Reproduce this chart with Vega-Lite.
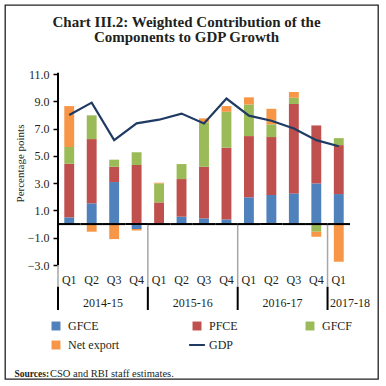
{
  "$schema": "https://vega.github.io/schema/vega-lite/v6.json",
  "width": 373,
  "height": 374,
  "autosize": {"type": "none"},
  "padding": {"left": 5, "top": 5, "right": 8, "bottom": 7},
  "background": "white",
  "title": {
    "text": ["Chart III.2: Weighted Contribution of the", "Components to GDP Growth"],
    "font": "Liberation Serif",
    "fontSize": 15,
    "fontWeight": "bold",
    "color": "#231f20",
    "anchor": "middle",
    "offset": -40,
    "dx": -5,
    "lineHeight": 15.5
  },
  "datasets": {
    "rows": [
      {"period": "2014-15 Q1", "GFCE": 0.49, "PFCE": 3.93, "GFCF": 1.23, "Net export": 3.0, "GDP": 8.0},
      {"period": "2014-15 Q2", "GFCE": 1.52, "PFCE": 4.71, "GFCF": 1.74, "Net export": -0.56, "GDP": 8.9},
      {"period": "2014-15 Q3", "GFCE": 3.08, "PFCE": 1.12, "GFCF": 0.52, "Net export": -1.1, "GDP": 6.15},
      {"period": "2014-15 Q4", "GFCE": -0.37, "PFCE": 4.33, "GFCF": 0.93, "Net export": -0.1, "GDP": 7.38},
      {"period": "2015-16 Q1", "GFCE": 0.05, "PFCE": 1.54, "GFCF": 1.39, "Net export": 0.05, "GDP": 7.65},
      {"period": "2015-16 Q2", "GFCE": 0.54, "PFCE": 2.76, "GFCF": 1.1, "Net export": 0.0, "GDP": 8.1},
      {"period": "2015-16 Q3", "GFCE": 0.42, "PFCE": 3.78, "GFCF": 3.25, "Net export": 0.3, "GDP": 7.38},
      {"period": "2015-16 Q4", "GFCE": 0.34, "PFCE": 5.26, "GFCF": 2.63, "Net export": 0.42, "GDP": 9.2},
      {"period": "2016-17 Q1", "GFCE": 1.96, "PFCE": 4.49, "GFCF": 2.32, "Net export": 0.52, "GDP": 7.95},
      {"period": "2016-17 Q2", "GFCE": 2.13, "PFCE": 4.25, "GFCF": 0.93, "Net export": 1.14, "GDP": 7.57},
      {"period": "2016-17 Q3", "GFCE": 2.25, "PFCE": 6.55, "GFCF": 0.46, "Net export": 0.42, "GDP": 7.0},
      {"period": "2016-17 Q4", "GFCE": 2.98, "PFCE": 4.25, "GFCF": -0.56, "Net export": -0.37, "GDP": 6.15},
      {"period": "2017-18 Q1", "GFCE": 2.2, "PFCE": 3.59, "GFCF": 0.51, "Net export": -2.76, "GDP": 5.7}
    ],
    "seps": [
      {"period": "2014-15 Q1"},
      {"period": "2015-16 Q1"},
      {"period": "2016-17 Q1"},
      {"period": "2017-18 Q1"}
    ],
    "years": [
      {"period": "2014-15 Q2", "year": "2014-15"},
      {"period": "2015-16 Q2", "year": "2015-16"},
      {"period": "2016-17 Q2", "year": "2016-17"},
      {"period": "2017-18 Q1", "year": "2017-18"}
    ],
    "comps": [
      {"comp": "GFCE", "k": 1},
      {"comp": "PFCE", "k": 2},
      {"comp": "GFCF", "k": 3},
      {"comp": "Net export", "k": 4}
    ]
  },
  "data": {"name": "rows"},
  "layer": [
    {
      "transform": [
        {"fold": ["GFCE", "PFCE", "GFCF", "Net export"], "as": ["comp", "value"]},
        {"lookup": "comp", "from": {"data": {"name": "comps"}, "key": "comp", "fields": ["k"]}}
      ],
      "mark": {"type": "bar", "width": {"band": 0.44}},
      "encoding": {
        "x": {
          "field": "period",
          "type": "nominal",
          "title": "Sources:",
          "scale": {"paddingInner": 0, "paddingOuter": 0, "range": [53, 345]},
          "axis": {
            "orient": "bottom",
            "offset": -106.5,
            "bandPosition": 0.5,
            "domain": false,
            "ticks": false,
            "grid": false,
            "labelAngle": 0,
            "labelPadding": 2,
            "labelExpr": "split(datum.label, ' ')[1]",
            "labelFont": "Liberation Serif",
            "labelFontSize": 12,
            "labelColor": "#231f20",
            "titleFont": "Liberation Serif",
            "titleFontSize": 9.5,
            "titleFontWeight": "bold",
            "titleColor": "#231f20",
            "titleX": 9,
            "titleY": 100.5,
            "titleAlign": "left",
            "titleBaseline": "middle",
            "titleAnchor": "start"
          }
        },
        "y": {
          "field": "value",
          "type": "quantitative",
          "stack": "zero",
          "title": "Percentage points",
          "scale": {"domain": [-11.356, 16.058], "nice": false, "zero": false},
          "axis": {
            "orient": "left",
            "offset": -53,
            "domain": false,
            "grid": false,
            "values": [-3, -1, 1, 3, 5, 7, 9, 11],
            "format": ".1f",
            "tickSize": 5,
            "tickColor": "#000000",
            "tickWidth": 1.5,
            "labelFont": "Liberation Serif",
            "labelFontSize": 12,
            "labelColor": "#231f20",
            "labelPadding": 4,
            "labelOverlap": false,
            "titleFont": "Liberation Serif",
            "titleFontSize": 11,
            "titleFontWeight": "normal",
            "titleColor": "#231f20",
            "titleX": -38,
            "titleY": 158,
            "titleAngle": -90,
            "titleAlign": "center",
            "titleBaseline": "middle"
          }
        },
        "color": {
          "field": "comp",
          "type": "nominal",
          "scale": {
            "domain": ["GFCE", "PFCE", "GFCF", "Net export", "GDP"],
            "range": ["#4f81bd", "#c0504d", "#9bbb59", "#f79646", "#1f3b63"]
          },
          "legend": {
            "orient": "none",
            "legendX": 45,
            "legendY": 315,
            "direction": "horizontal",
            "columns": 3,
            "columnPadding": 66,
            "rowPadding": 7,
            "symbolSize": 80,
            "symbolType": "square",
            "labelFont": "Liberation Serif",
            "labelFontSize": 12,
            "labelColor": "#231f20",
            "labelOffset": 6,
            "title": "CSO and RBI staff estimates.",
            "titleOrient": "bottom",
            "titleAnchor": "start",
            "titlePadding": 18,
            "titleFont": "Liberation Serif",
            "titleFontSize": 10.5,
            "titleFontWeight": "normal",
            "titleColor": "#231f20",
            "encode": {
              "symbols": {
                "update": {
                  "shape": {"signal": "datum.value === 'GDP' ? 'stroke' : 'square'"},
                  "fill": {"signal": "datum.value === 'GDP' ? 'transparent' : scale('color', datum.value)"},
                  "stroke": {"signal": "scale('color', datum.value)"},
                  "strokeWidth": {"signal": "datum.value === 'GDP' ? 2 : 0"},
                  "size": {"signal": "datum.value === 'GDP' ? 250 : 80"},
                  "opacity": {"value": 1}
                }
              }
            }
          }
        },
        "order": {"field": "k", "type": "quantitative"}
      }
    },
    {
      "data": {"name": "seps"},
      "mark": {"type": "rule", "color": "#a6a6a6", "strokeWidth": 1.5},
      "encoding": {
        "x": {"field": "period", "type": "nominal", "bandPosition": 0, "title": "Sources:"},
        "y": {"datum": 0},
        "y2": {"datum": -4.6}
      }
    },
    {
      "data": {"name": "seps"},
      "mark": {"type": "rule", "color": "#000000", "strokeWidth": 2},
      "encoding": {
        "x": {"field": "period", "type": "nominal", "bandPosition": 0, "title": "Sources:"},
        "y": {"datum": -4.6},
        "y2": {"datum": -6.3}
      }
    },
    {
      "data": {"name": "seps"},
      "transform": [{"filter": "datum.period == '2014-15 Q1'"}],
      "mark": {"type": "rule", "color": "#000000", "strokeWidth": 2},
      "encoding": {
        "x": {"field": "period", "type": "nominal", "bandPosition": 0, "title": "Sources:"},
        "y": {"datum": 11.1},
        "y2": {"datum": -3}
      }
    },
    {
      "mark": {"type": "rect", "color": "#000000"},
      "encoding": {
        "x": {"field": "period", "type": "nominal", "title": "Sources:"},
        "y": {"datum": 0.075},
        "y2": {"datum": -0.075}
      }
    },
    {
      "mark": {"type": "line", "strokeWidth": 2.2},
      "encoding": {
        "x": {"field": "period", "type": "nominal", "title": "Sources:"},
        "y": {"field": "GDP", "type": "quantitative", "title": "Percentage points"},
        "color": {"datum": "GDP"}
      }
    },
    {
      "data": {"name": "years"},
      "mark": {"type": "text", "font": "Liberation Serif", "fontSize": 12, "color": "#231f20", "align": "center", "baseline": "middle"},
      "encoding": {
        "x": {"field": "period", "type": "nominal", "bandPosition": 1, "title": "Sources:"},
        "y": {"datum": -5.8},
        "text": {"field": "year"}
      }
    }
  ],
  "config": {
    "view": {"stroke": "#231f20", "strokeWidth": 1.3},
    "font": "Liberation Serif"
  }
}
